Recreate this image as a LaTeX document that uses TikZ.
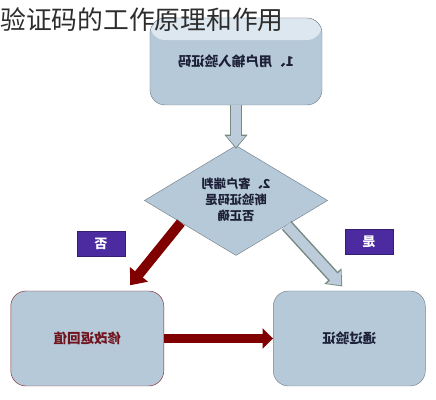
\documentclass[tikz,border=0pt]{standalone}
\usepackage{fontspec}
\usepackage{graphicx}
\newfontfamily\cjk{Noto Sans CJK SC}
\usetikzlibrary{positioning, shapes.geometric, arrows.meta, calc}
\definecolor{BoxBlue}{RGB}{182, 201, 216}
\definecolor{BoxTop}{RGB}{221, 231, 239}
\definecolor{BoxLine}{RGB}{118, 130, 140}
\definecolor{FixLine}{RGB}{128, 42, 52}
\definecolor{ArrowRed}{RGB}{128, 0, 0}
\definecolor{ArrowBlue}{RGB}{188, 204, 218}
\definecolor{ArrowEdge}{RGB}{118, 136, 128}
\definecolor{TagPurple}{RGB}{76, 42, 160}
\definecolor{TitleGray}{RGB}{45, 45, 45}
\definecolor{TextNavy}{RGB}{28, 32, 56}
\definecolor{TextRed}{RGB}{112, 20, 30}

\begin{document}
\begin{tikzpicture}[
    x=0.03cm, y=-0.03cm,
    node distance=1.2cm,
    stepbox/.style={rectangle, rounded corners=13pt, draw=BoxLine, fill=BoxBlue, minimum width=4.56cm, minimum height=2.85cm, text=TextNavy, font=\cjk\bfseries\fontsize{11.5}{14}\selectfont},
    decision/.style={diamond, draw=BoxLine, fill=BoxBlue, minimum width=5.5cm, minimum height=3.3cm, inner sep=0pt},
    decisiontext/.style={text=TextNavy, font=\cjk\bfseries\fontsize{10.5}{13.6}\selectfont, inner sep=0pt},
    tag/.style={rectangle, draw=TagPurple!70!black, fill=TagPurple, minimum width=1.44cm, minimum height=0.75cm, text=white, font=\cjk\bfseries\fontsize{11}{13}\selectfont},
    redarrow/.style={-{Triangle[width=19pt, length=12pt]}, line width=8.5pt, ArrowRed},
    bluearrowout/.style={-{Triangle[width=19pt, length=12pt]}, line width=11pt, ArrowEdge},
    bluearrowin/.style={-{Triangle[width=15.5pt, length=9.5pt]}, line width=8.5pt, ArrowBlue, shorten >=1.3pt}
  ]
    \useasboundingbox (0,0) rectangle (436,400);

    % flow boxes
    \node[stepbox, minimum width=5.16cm, minimum height=2.61cm,
          path picture={\fill[BoxTop] (path picture bounding box.north west) rectangle ([yshift=-18.8pt]path picture bounding box.north east);}]
          (input) at (236,61.5) {\reflectbox{1、用户输入验证码}};
    \node[decision, below=1.2cm of input] (check)
          {};
    \node[decisiontext] (checktext) at ([yshift=-1pt]check.center)
          {\reflectbox{\begin{tabular}{@{}c@{}}2、客户端判\\断验证码是\\否正确\end{tabular}}};
    \node[stepbox, draw=FixLine, text=TextRed, minimum width=4.59cm, below left=1.88cm and 0.78cm of check] (fix)
          {\reflectbox{修改返回值}};
    \node[stepbox, right=3.27cm of fix] (pass)
          {\reflectbox{通过验证}};

    % branch tags
    \node[tag] (no) at (101,244) {\reflectbox{否}};
    \node[tag] (yes) at (369,242) {\reflectbox{是}};

    % connectors
    \draw[bluearrowout, shorten >=-3pt] (input) -- (check.north);
    \draw[bluearrowin, shorten >=-1.7pt] (input) -- (check.north);
    \draw[redarrow, shorten >=6pt] ($(check.west)!0.4!(check.south)$) -- ($(fix.north)!0.5!(fix.north east)$);
    \draw[bluearrowout, shorten >=5pt] ($(check.east)!0.45!(check.south)$) -- ($(pass.north)+(-3,0)$);
    \draw[bluearrowin, shorten >=6.3pt] ($(check.east)!0.45!(check.south)$) -- ($(pass.north)+(-3,0)$);
    \draw[redarrow, -{Triangle[width=17pt, length=9pt]}] (fix.east) -- (fix.east -| pass.west);

    % title
    \node[anchor=west, inner sep=0pt, text=TitleGray, font=\cjk\fontsize{22}{26}\selectfont] (title) at (0,20) {验证码的工作原理和作用};
  \end{tikzpicture}
\end{document}
